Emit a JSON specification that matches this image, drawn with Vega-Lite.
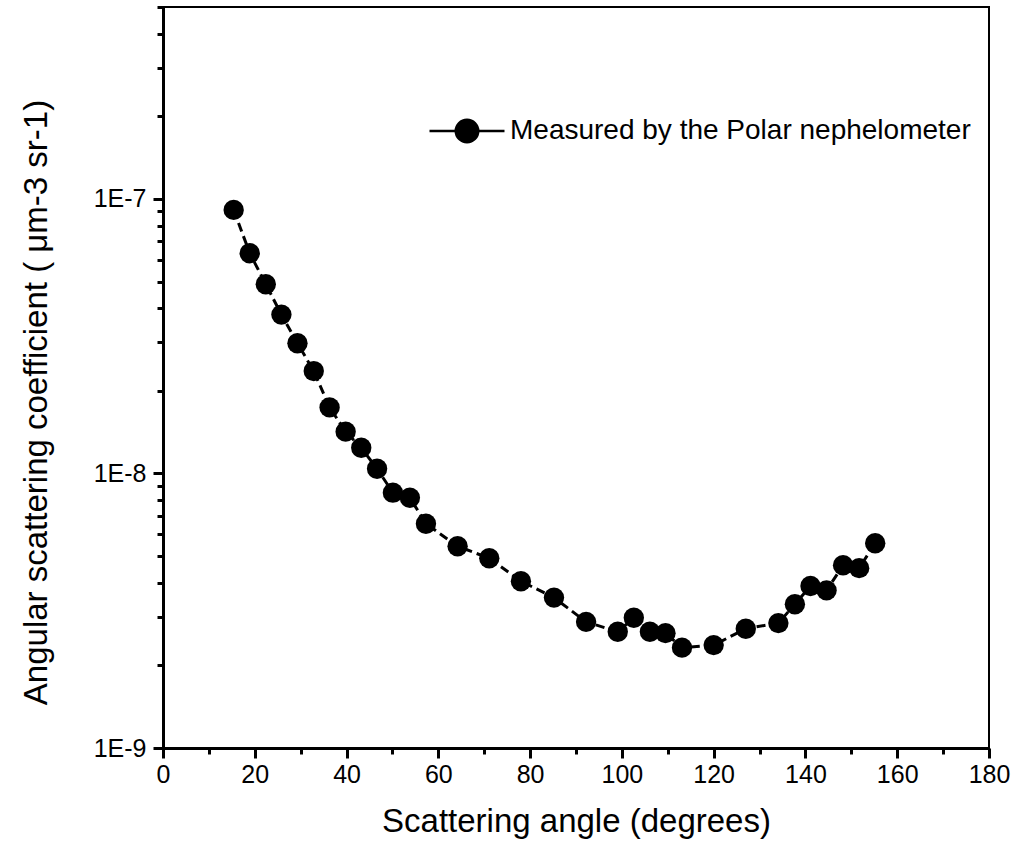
{
  "$schema": "https://vega.github.io/schema/vega-lite/v6.json",
  "autosize": {"type": "none"},
  "width": 826,
  "height": 741,
  "padding": {"left": 163, "top": 7, "right": 26, "bottom": 107},
  "background": "white",
  "config": {
    "view": {"stroke": "black", "strokeWidth": 2},
    "font": "Liberation Sans",
    "axis": {
      "domainColor": "black",
      "domainWidth": 3,
      "tickColor": "black",
      "tickWidth": 3,
      "tickSize": 10,
      "grid": false,
      "labelColor": "black",
      "labelFont": "Liberation Sans",
      "labelFontSize": 25,
      "titleColor": "black",
      "titleFont": "Liberation Sans",
      "titleFontSize": 33,
      "titleFontWeight": "normal"
    }
  },
  "data": {
    "values": [
      {"angle": 15.4, "coef": 9.12e-8},
      {"angle": 18.9, "coef": 6.34e-8},
      {"angle": 22.4, "coef": 4.89e-8},
      {"angle": 25.8, "coef": 3.79e-8},
      {"angle": 29.3, "coef": 2.98e-8},
      {"angle": 32.85, "coef": 2.36e-8},
      {"angle": 36.3, "coef": 1.74e-8},
      {"angle": 39.8, "coef": 1.42e-8},
      {"angle": 43.2, "coef": 1.24e-8},
      {"angle": 46.65, "coef": 1.04e-8},
      {"angle": 50.1, "coef": 8.51e-9},
      {"angle": 53.8, "coef": 8.16e-9},
      {"angle": 57.3, "coef": 6.56e-9},
      {"angle": 64.2, "coef": 5.43e-9},
      {"angle": 71.1, "coef": 4.91e-9},
      {"angle": 78.0, "coef": 4.05e-9},
      {"angle": 85.2, "coef": 3.53e-9},
      {"angle": 92.2, "coef": 2.88e-9},
      {"angle": 99.1, "coef": 2.65e-9},
      {"angle": 102.6, "coef": 2.98e-9},
      {"angle": 106.1, "coef": 2.65e-9},
      {"angle": 109.5, "coef": 2.62e-9},
      {"angle": 113.1, "coef": 2.32e-9},
      {"angle": 120.0, "coef": 2.37e-9},
      {"angle": 127.0, "coef": 2.72e-9},
      {"angle": 134.1, "coef": 2.85e-9},
      {"angle": 137.7, "coef": 3.34e-9},
      {"angle": 141.1, "coef": 3.89e-9},
      {"angle": 144.6, "coef": 3.75e-9},
      {"angle": 148.2, "coef": 4.63e-9},
      {"angle": 151.7, "coef": 4.52e-9},
      {"angle": 155.2, "coef": 5.57e-9}
    ]
  },
  "layer": [
    {
      "mark": {"type": "line", "color": "black", "strokeWidth": 3, "strokeDash": [9, 5]},
      "encoding": {
        "x": {
          "field": "angle", "type": "quantitative",
          "scale": {"domain": [0, 180], "nice": false, "zero": false},
          "axis": {"orient": "bottom", "values": [0, 20, 40, 60, 80, 100, 120, 140, 160, 180], "title": "Scattering angle (degrees)", "labelPadding": 4, "titlePadding": 18, "labelFlush": false}
        },
        "y": {
          "field": "coef", "type": "quantitative",
          "scale": {"type": "log", "domain": [1e-9, 5e-7], "nice": false},
          "axis": {"orient": "left", "values": [1e-9, 1e-8, 1e-7], "labelExpr": "'1E' + round(log(datum.value)/LN10)", "title": "Angular scattering coefficient ( μm-3 sr-1)", "labelPadding": 7, "titlePadding": 40, "titleY": 395, "labelFlush": false}
        }
      }
    },
    {
      "mark": {"type": "point", "filled": true, "shape": "circle", "size": 415, "opacity": 1},
      "encoding": {
        "x": {
          "field": "angle", "type": "quantitative",
          "axis": {"orient": "bottom", "values": [10, 30, 50, 70, 90, 110, 130, 150, 170], "labels": false, "title": null, "domain": false, "tickSize": 6}
        },
        "y": {
          "field": "coef", "type": "quantitative",
          "axis": {"orient": "left", "values": [2e-9, 3e-9, 4e-9, 5e-9, 6e-9, 7e-9, 8e-9, 9e-9, 2e-8, 3e-8, 4e-8, 5e-8, 6e-8, 7e-8, 8e-8, 9e-8, 2e-7, 3e-7, 4e-7, 5e-7], "labels": false, "title": null, "domain": false, "tickSize": 6}
        },
        "color": {
          "datum": "Measured by the Polar nephelometer",
          "scale": {"range": ["black"]},
          "legend": {
            "orient": "none",
            "legendX": 284,
            "legendY": 104,
            "title": null,
            "padding": 0,
            "symbolType": "M -2 0 L -0.6 0 M 0.6 0 L 2 0 M -0.6 0 A 0.6 0.6 0 1 1 0.6 0 A 0.6 0.6 0 1 1 -0.6 0 Z",
            "symbolSize": 1406,
            "symbolFillColor": "black",
            "symbolStrokeColor": "black",
            "symbolStrokeWidth": 2.5,
            "labelFontSize": 28,
            "labelFont": "Liberation Sans",
            "labelColor": "black",
            "labelOffset": 23,
            "labelLimit": 600
          }
        }
      }
    }
  ],
  "resolve": {"axis": {"x": "independent", "y": "independent"}}
}
